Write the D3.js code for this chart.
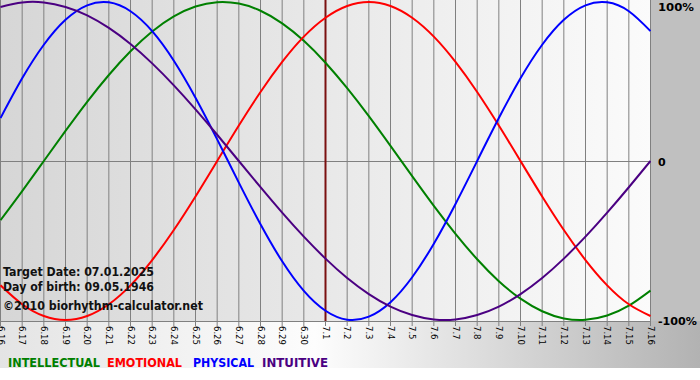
<!DOCTYPE html>
<html><head><meta charset="utf-8">
<script src="https://cdn.jsdelivr.net/npm/d3@7"></script>
<style>html,body{margin:0;padding:0;background:#fff;}svg{display:block;}</style>
</head><body>
<script>
const days = ["6.16","6.17","6.18","6.19","6.20","6.21","6.22","6.23","6.24","6.25","6.26","6.27","6.28","6.29","6.30",
  "7.1","7.2","7.3","7.4","7.5","7.6","7.7","7.8","7.9","7.10","7.11","7.12","7.13","7.14","7.15","7.16"];
const intellectual = [-0.372,-0.189,0.000,0.189,0.372,0.541,0.690,0.815,0.910,0.972,0.999,0.990,0.945,0.866,0.756,0.618,0.458,0.282,0.095,-0.095,-0.282,-0.458,-0.618,-0.756,-0.866,-0.945,-0.990,-0.999,-0.972,-0.910,-0.815];
const emotional = [-0.782,-0.901,-0.975,-1.000,-0.975,-0.901,-0.782,-0.623,-0.434,-0.223,0.000,0.223,0.434,0.623,0.782,0.901,0.975,1.000,0.975,0.901,0.782,0.623,0.434,0.223,0.000,-0.223,-0.434,-0.623,-0.782,-0.901,-0.975];
const physical = [0.270,0.520,0.731,0.888,0.979,0.998,0.942,0.817,0.631,0.398,0.136,-0.136,-0.398,-0.631,-0.817,-0.942,-0.998,-0.979,-0.888,-0.731,-0.520,-0.270,0.000,0.270,0.520,0.731,0.888,0.979,0.998,0.942,0.817];
const intuitive = [0.969,0.997,0.997,0.969,0.916,0.837,0.736,0.614,0.476,0.325,0.165,0.000,-0.165,-0.325,-0.476,-0.614,-0.736,-0.837,-0.916,-0.969,-0.997,-0.997,-0.969,-0.916,-0.837,-0.736,-0.614,-0.476,-0.325,-0.165,0.000];
const seriesNames = ["INTELLECTUAL","EMOTIONAL","PHYSICAL","INTUITIVE"];
const yTickLabels = ["100%","0","-100%"];
const yTickValues = [1,0,-1];
const targetDay = "7.1";
const infoLines = ["Target Date: 07.01.2025","Day of birth: 09.05.1946","©2010 biorhythm-calculator.net"];

const W=700,H=380;
const colors = {INTELLECTUAL:"#008000",EMOTIONAL:"#ff0000",PHYSICAL:"#0000ff",INTUITIVE:"#4b0082"};
const seriesData = {INTELLECTUAL:intellectual,EMOTIONAL:emotional,PHYSICAL:physical,INTUITIVE:intuitive};

const svg = d3.select("body").append("svg").attr("width",W).attr("height",H);
const defs = svg.append("defs");
const g1 = defs.append("linearGradient").attr("id","plotbg").attr("x1","0").attr("x2","1").attr("y1","0").attr("y2","0");
g1.append("stop").attr("offset","0").attr("stop-color","#d6d6d6");
g1.append("stop").attr("offset","1").attr("stop-color","#fbfbfb");
const g2 = defs.append("linearGradient").attr("id","bandbg").attr("x1","0").attr("x2","1").attr("y1","0").attr("y2","0");
g2.append("stop").attr("offset","0").attr("stop-color","#e4e4e4");
g2.append("stop").attr("offset","0.45").attr("stop-color","#fdfdfd");
g2.append("stop").attr("offset","1").attr("stop-color","#b2b2b2");
defs.append("clipPath").attr("id","clip").append("rect").attr("x",0).attr("y",0).attr("width",651).attr("height",322);

const x = d3.scalePoint().domain(days).range([0.5,650.5]);
const y = d3.scaleLinear().domain([-1,1]).range([320,2]);

// backgrounds
svg.append("rect").attr("x",0).attr("y",0).attr("width",W).attr("height",368).attr("fill","url(#bandbg)");
svg.append("rect").attr("x",0).attr("y",0).attr("width",651).attr("height",321).attr("fill","url(#plotbg)");
svg.append("rect").attr("x",651).attr("y",0).attr("width",49).attr("height",321).attr("fill","#c0c0c0");

// vertical grid + ticks
svg.append("g").selectAll("line").data(days).join("line")
  .attr("x1",d=>x(d)).attr("x2",d=>x(d)).attr("y1",0).attr("y2",326)
  .attr("stroke","#808080").attr("stroke-width",1);
// zero line
svg.append("line").attr("x1",0).attr("x2",651).attr("y1",Math.round(y(0))+0.5).attr("y2",Math.round(y(0))+0.5)
  .attr("stroke","#808080").attr("stroke-width",1);
// bottom axis line
svg.append("line").attr("x1",0).attr("x2",651).attr("y1",321.5).attr("y2",321.5).attr("stroke","#808080");

// x labels rotated
svg.append("g").selectAll("text").data(days).join("text")
  .attr("transform",d=>`translate(${x(d)-3},326) rotate(90)`)
  .attr("font-family","DejaVu Sans, Verdana, sans-serif").attr("font-size","8.5px").attr("fill","#000")
  .text(d=>d);

// target line
svg.append("line").attr("x1",x(targetDay)).attr("x2",x(targetDay)).attr("y1",0).attr("y2",321)
  .attr("stroke","#7a1010").attr("stroke-width",2);

// curves
const line = d3.line().x((d,i)=>x(days[i])).y(d=>y(d)).curve(d3.curveNatural);
const cg = svg.append("g").attr("clip-path","url(#clip)");
seriesNames.forEach(n=>{
  cg.append("path").attr("d",line(seriesData[n])).attr("fill","none")
    .attr("stroke",colors[n]).attr("stroke-width",2);
});

// right labels
const rlab = [{t:yTickLabels[0],v:yTickValues[0],dy:9,w:36},{t:yTickLabels[1],v:yTickValues[1],dy:5,w:0},{t:yTickLabels[2],v:yTickValues[2],dy:5,w:39}];
rlab.forEach(r=>{
  const t = svg.append("text").attr("x",658).attr("y",y(r.v)+r.dy)
    .attr("font-family","DejaVu Sans, Verdana, sans-serif").attr("font-weight","bold").attr("font-size","11px").attr("fill","#000").text(r.t);
  if(r.w) t.attr("textLength",r.w).attr("lengthAdjust","spacingAndGlyphs");
});

// info text
const infoY=[276,291,310], infoW=[151,151,200];
infoLines.forEach((s,i)=>{
  svg.append("text").attr("x",3).attr("y",infoY[i]).attr("font-family","DejaVu Sans, Verdana, sans-serif")
    .attr("font-weight","bold").attr("font-size","11.5px").attr("fill","#111")
    .attr("textLength",infoW[i]).attr("lengthAdjust","spacingAndGlyphs").text(s);
});

// legend
const legX=[8,107,193,262], legW=[92,75,61,66];
seriesNames.forEach((n,i)=>{
  svg.append("text").attr("x",legX[i]).attr("y",367).attr("font-family","DejaVu Sans, Tahoma, sans-serif")
    .attr("font-weight","bold").attr("font-size","12.5px").attr("fill",colors[n])
    .attr("textLength",legW[i]).attr("lengthAdjust","spacingAndGlyphs").text(n);
});
</script>
</body></html>
